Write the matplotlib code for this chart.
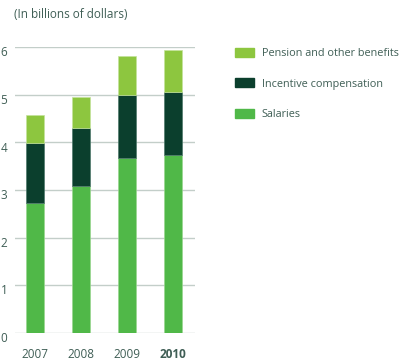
import numpy as np
import matplotlib.pyplot as plt
from matplotlib.patches import Patch
from matplotlib.transforms import ScaledTranslation

years = ['2007', '2008', '2009', '2010']
salaries = [2.72, 3.08, 3.67, 3.73]
incentive = [1.27, 1.22, 1.33, 1.32]
pension = [0.59, 0.66, 0.81, 0.88]

c_sal = '#50b848'
c_inc = '#0b3f2d'
c_pen = '#8dc63f'
txt = '#3f5e55'
grid = '#c3cec9'

plt.rcParams['font.family'] = ['Open Sans', 'DejaVu Sans']

fig = plt.figure(figsize=(4.06, 3.6), dpi=100)
ax = fig.add_axes([15 / 406, 27 / 360, 180 / 406, 286 / 360])

x = np.arange(len(years))
w = 0.4
sal = np.array(salaries)
inc = np.array(incentive)
pen = np.array(pension)
ax.bar(x, sal, w, color=c_sal, edgecolor='#9ad690', linewidth=0.5, zorder=3)
ax.bar(x, inc, w, bottom=sal, color=c_inc, edgecolor='#4f7a6c', linewidth=0.5, zorder=3)
ax.bar(x, pen, w, bottom=sal + inc, color=c_pen, edgecolor='#c4e39c', linewidth=0.5, zorder=3)

ax.set_xlim(-0.435, 3.48)
ax.set_ylim(0, 6)
ax.set_yticks(range(7))
ax.yaxis.grid(True, color=grid, linewidth=1, zorder=0)
for s in ax.spines.values():
    s.set_visible(False)
ax.tick_params(axis='both', length=0, colors=txt, labelsize=8.5)
ax.tick_params(axis='y', pad=5.5)
ax.tick_params(axis='x', pad=11)
ax.set_xticks(x)
ax.set_xticklabels(years)
ax.get_xticklabels()[-1].set_fontweight('bold')
shift = ScaledTranslation(0, -3 / 72, fig.dpi_scale_trans)
for lab in ax.get_yticklabels():
    lab.set_transform(lab.get_transform() + shift)

fig.text(14 / 406, 1 - 15 / 360, '(In billions of dollars)', color=txt,
         fontsize=8.5, va='center', ha='left')

handles = [Patch(color=c_pen), Patch(color=c_inc), Patch(color=c_sal)]
labels = ['Pension and other benefits', 'Incentive compensation', 'Salaries']
fig.legend(handles, labels, loc='upper left', bbox_to_anchor=(225 / 406, 1 - 38 / 360),
           frameon=False, fontsize=7.8, labelcolor=txt, handlelength=1.8,
           handleheight=0.9, labelspacing=1.78, handletextpad=0.7)

fig.savefig('out.png', dpi=100)
